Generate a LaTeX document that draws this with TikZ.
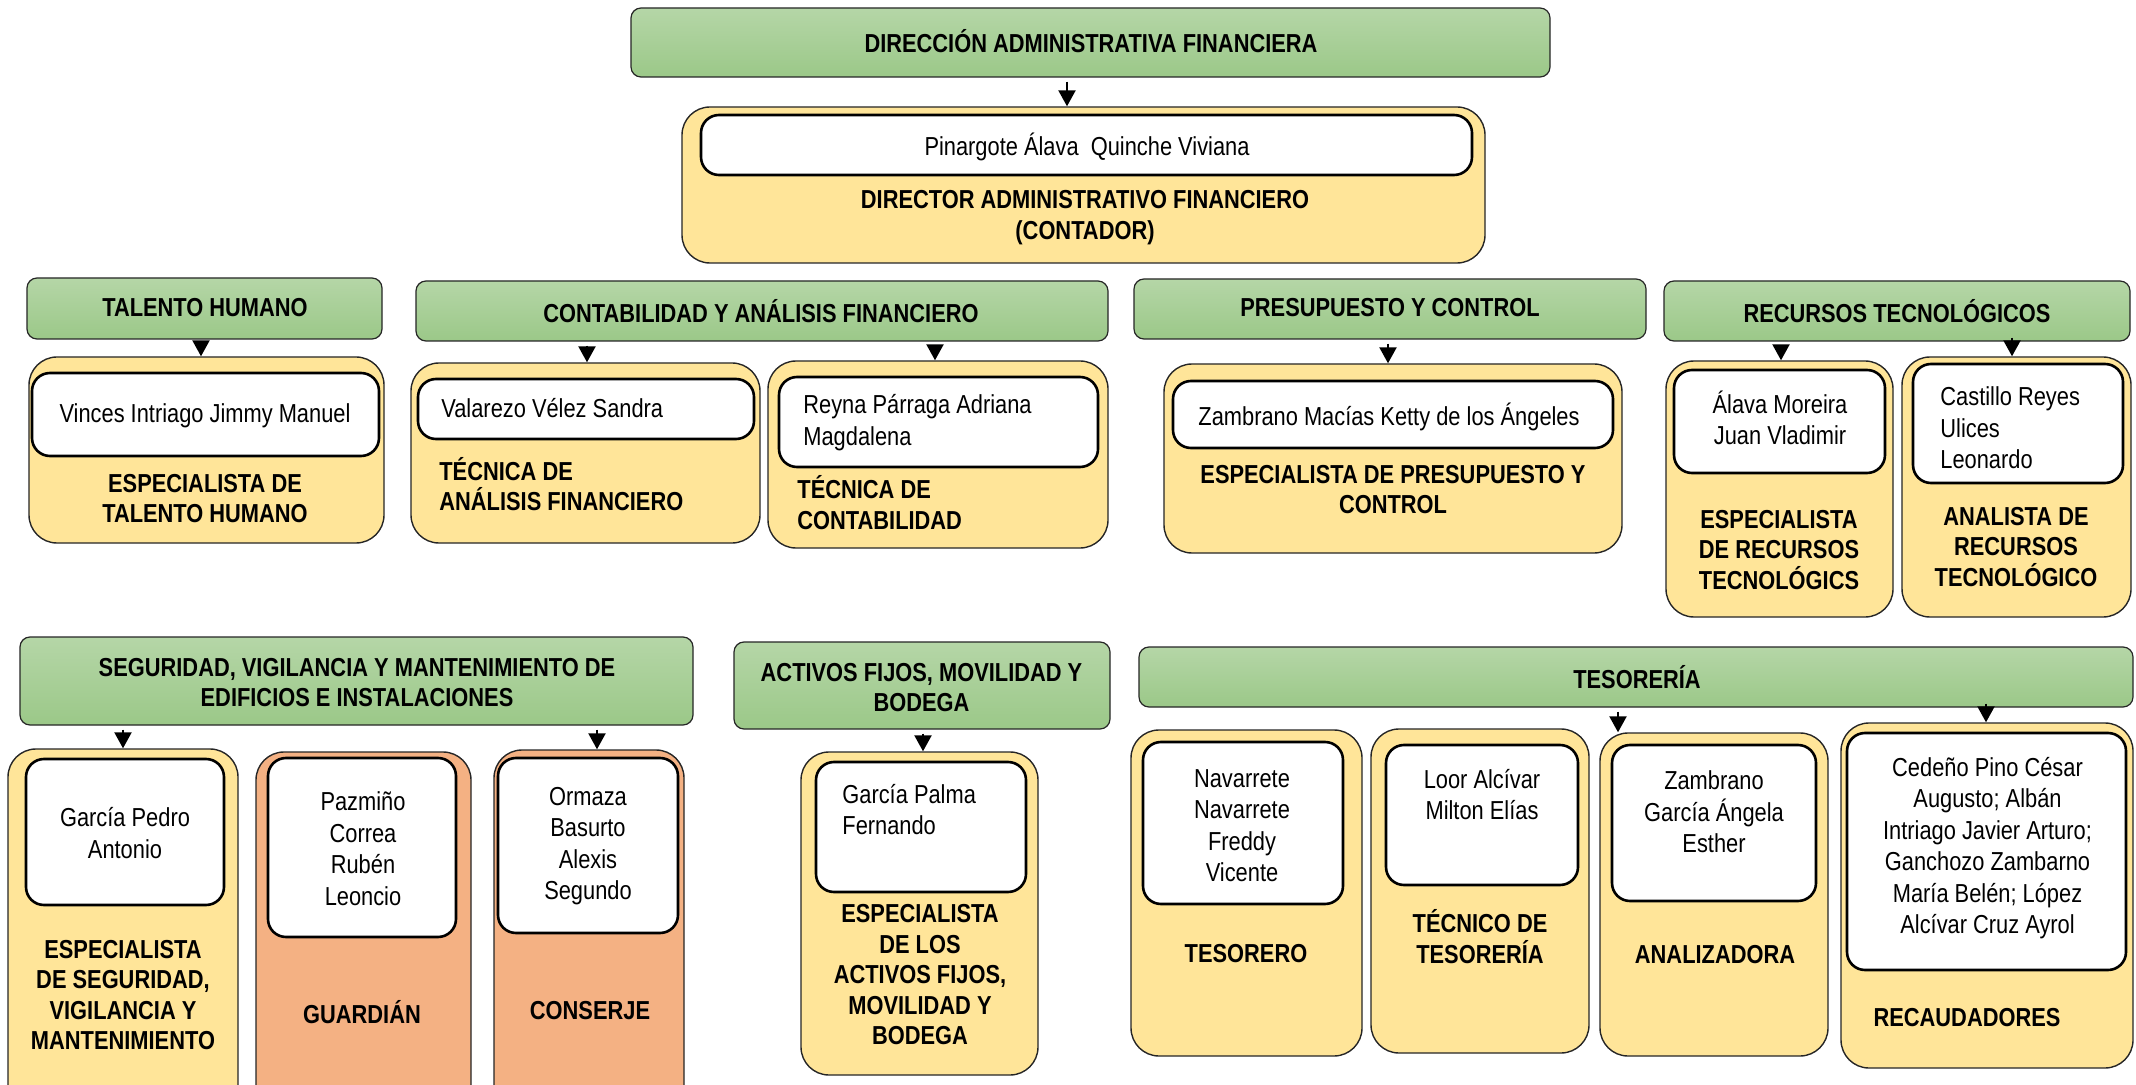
\documentclass[tikz,border=0pt]{standalone}
\usepackage{fontspec}
\setmainfont{Liberation Sans}[FakeStretch=0.84]
\usetikzlibrary{fit,arrows.meta}
\definecolor{grnTop}{HTML}{B5D6A7}
\definecolor{grnBot}{HTML}{9BC888}
\definecolor{yelFill}{HTML}{FFE599}
\definecolor{orgFill}{HTML}{F4B183}
\definecolor{edgeC}{HTML}{262626}

\tikzset{
  hdr/.style={draw=edgeC, line width=0.6pt, rounded corners=5pt,
    top color=grnTop, bottom color=grnBot, inner sep=0pt},
  posbox/.style={draw=edgeC, line width=0.7pt, rounded corners=14pt,
    fill=yelFill, inner sep=0pt},
  posboxO/.style={posbox, fill=orgFill},
  namebox/.style={draw=black, line width=1.3pt, fill=white,
    rounded corners=9pt, inner sep=0pt},
  htxt/.style={font=\bfseries\fontsize{13}{15.25}\selectfont,
    align=center, inner sep=0pt},
  ttl/.style={htxt},
  ttll/.style={htxt, align=left, anchor=west},
  nm/.style={font=\fontsize{13}{15.75}\selectfont, align=center, inner sep=0pt},
  nml/.style={nm, align=left, anchor=west},
  arr/.style={-{Triangle[length=8pt,width=8.5pt]}, line width=1.1pt,
    black, shorten <=2pt},
}

\begin{document}
\begin{tikzpicture}[x=0.5pt, y=-0.5pt]
\useasboundingbox (0,0) rectangle (2136,1085);
\fill[white] (0,0) rectangle (2136,1085);
\clip (0,0) rectangle (2136,1085);

% x positions of the connectors
\coordinate (xTop) at (1067,0);
\coordinate (xTH) at (201,0);
\coordinate (xTAF) at (587,0);
\coordinate (xTC) at (935,0);
\coordinate (xPC) at (1388,0);
\coordinate (xERT) at (1781,0);
\coordinate (xART) at (2012,0);
\coordinate (xESV) at (123,0);
\coordinate (xCON) at (597,0);
\coordinate (xAF) at (923,0);
\coordinate (xANA) at (1618,0);
\coordinate (xREC) at (1986,0);

% ---------- direction ----------
\node[hdr, fit={(631,8)(1550,77)}] (dafH) {};
\node[htxt] (dafT) at (1091,41) {DIRECCIÓN ADMINISTRATIVA FINANCIERA};
\node[posbox, fit={(682,107)(1485,263)}] (dirB) {};
\node[namebox, fit={(701,115)(1472,175)}] (dirN) {};
\node[nm] (dirNT) at (1087,147) {Pinargote Álava\ \ Quinche Viviana};
\node[ttl] (dirT) at (1085,217.5) {DIRECTOR ADMINISTRATIVO FINANCIERO\\(CONTADOR)};
\draw[arr] (dafH.south -| xTop) -- (dirB.north -| xTop);

% ---------- talento humano ----------
\node[hdr, fit={(27,278)(382,339)}] (thH) {};
\node[htxt] (thHT) at (205,308) {TALENTO HUMANO};
\node[posbox, fit={(29,357)(384,543)}] (thB) {};
\node[namebox, fit={(32,373)(379,456)}] (thN) {};
\node[nm] (thNT) at (205,416) {Vinces Intriago Jimmy Manuel};
\node[ttl] (thT) at (205,498.5) {ESPECIALISTA DE\\TALENTO HUMANO};
\draw[arr] (thH.south -| xTH) -- (thB.north -| xTH);

% ---------- contabilidad y analisis financiero ----------
\node[hdr, fit={(416,281)(1108,341)}] (cafH) {};
\node[htxt] (cafHT) at (761,311) {CONTABILIDAD Y ANÁLISIS FINANCIERO};
\node[posbox, fit={(411,363)(760,543)}] (tafB) {};
\node[namebox, fit={(418,379)(754,439)}] (tafN) {};
\node[nml] (tafNT) at (441,408) {Valarezo Vélez Sandra};
\node[ttll] (tafT) at (439,484) {TÉCNICA DE\\ANÁLISIS FINANCIERO};
\draw[arr] (cafH.south -| xTAF) -- (tafB.north -| xTAF);

\node[posbox, fit={(768,361)(1108,548)}] (tcB) {};
\node[namebox, fit={(779,377)(1098,467)}] (tcN) {};
\node[nml] (tcNT) at (803,422.5) {Reyna Párraga Adriana\\Magdalena};
\node[ttll] (tcT) at (797,502.5) {TÉCNICA DE\\CONTABILIDAD};
\draw[arr] (cafH.south -| xTC) -- (tcB.north -| xTC);

% ---------- presupuesto y control ----------
\node[hdr, fit={(1134,279)(1646,339)}] (pcH) {};
\node[htxt] (pcHT) at (1390,308) {PRESUPUESTO Y CONTROL};
\node[posbox, fit={(1164,364)(1622,553)}] (pcB) {};
\node[namebox, fit={(1173,381)(1613,448)}] (pcN) {};
\node[nm] (pcNT) at (1389,417) {Zambrano Macías Ketty de los Ángeles};
\node[ttl] (pcT) at (1393,489.5) {ESPECIALISTA DE PRESUPUESTO Y\\CONTROL};
\draw[arr] (pcH.south -| xPC) -- (pcB.north -| xPC);

% ---------- recursos tecnologicos ----------
\node[hdr, fit={(1664,281)(2130,341)}] (rtH) {};
\node[htxt] (rtHT) at (1897,311) {RECURSOS TECNOLÓGICOS};
\node[posbox, fit={(1666,361)(1893,617)}] (ertB) {};
\node[namebox, fit={(1674,370)(1885,473)}] (ertN) {};
\node[nm] (ertNT) at (1780,418) {Álava Moreira\\Juan Vladimir};
\node[ttl] (ertT) at (1779,550) {ESPECIALISTA\\DE RECURSOS\\TECNOLÓGICS};
\draw[arr] (rtH.south -| xERT) -- (ertB.north -| xERT);

\node[posbox, fit={(1902,357)(2131,617)}] (artB) {};
\node[namebox, fit={(1913,364)(2123,483)}] (artN) {};
\node[nml] (artNT) at (1940,428) {Castillo Reyes\\Ulices\\Leonardo};
\node[ttl] (artT) at (2016,547) {ANALISTA DE\\RECURSOS\\TECNOLÓGICO};
\draw[arr] (rtH.south -| xART) -- (artB.north -| xART);

% ---------- seguridad, vigilancia y mantenimiento ----------
\node[hdr, fit={(20,637)(693,725)}] (svH) {};
\node[htxt] (svHT) at (357,682.5) {SEGURIDAD, VIGILANCIA Y MANTENIMIENTO DE\\EDIFICIOS E INSTALACIONES};
\node[posbox, fit={(8,749)(238,1130)}] (esvB) {};
\node[namebox, fit={(26,759)(224,905)}] (esvN) {};
\node[nm] (esvNT) at (125,833) {García Pedro\\Antonio};
\node[ttl] (esvT) at (123,995) {ESPECIALISTA\\DE SEGURIDAD,\\VIGILANCIA Y\\MANTENIMIENTO};
\draw[arr] (svH.south -| xESV) -- (esvB.north -| xESV);

\node[posboxO, fit={(256,752)(471,1130)}] (guaB) {};
\node[namebox, fit={(268,758)(456,937)}] (guaN) {};
\node[nm] (guaNT) at (363,848.5) {Pazmiño\\Correa\\Rubén\\Leoncio};
\node[ttl] (guaT) at (362,1012) {GUARDIÁN};

\node[posboxO, fit={(494,750)(684,1130)}] (conB) {};
\node[namebox, fit={(498,758)(678,933)}] (conN) {};
\node[nm] (conNT) at (588,846) {Ormaza\\Basurto\\Alexis\\Segundo};
\node[ttl] (conT) at (590,1011) {CONSERJE};
\draw[arr] (svH.south -| xCON) -- (conB.north -| xCON);

% ---------- activos fijos ----------
\node[hdr, fit={(734,642)(1110,729)}] (afH) {};
\node[htxt] (afHT) at (921.5,687.5) {ACTIVOS FIJOS, MOVILIDAD Y\\BODEGA};
\node[posbox, fit={(801,752)(1038,1075)}] (afB) {};
\node[namebox, fit={(816,762)(1026,892)}] (afN) {};
\node[nml] (afNT) at (842,809.5) {García Palma\\Fernando};
\node[ttl] (afT) at (920,975) {ESPECIALISTA\\DE LOS\\ACTIVOS FIJOS,\\MOVILIDAD Y\\BODEGA};
\draw[arr] (afH.south -| xAF) -- (afB.north -| xAF);

% ---------- tesoreria ----------
\node[hdr, fit={(1139,647)(2133,707)}] (tesH) {};
\node[htxt] (tesHT) at (1637,677) {TESORERÍA};

\node[posbox, fit={(1131,730)(1362,1056)}] (tsrB) {};
\node[namebox, fit={(1143,742)(1343,904)}] (tsrN) {};
\node[nm] (tsrNT) at (1242,825.5) {Navarrete\\Navarrete\\Freddy\\Vicente};
\node[ttl] (tsrT) at (1246,954) {TESORERO};

\node[posbox, fit={(1371,729)(1589,1053)}] (tteB) {};
\node[namebox, fit={(1386,745)(1578,885)}] (tteN) {};
\node[nm] (tteNT) at (1482,794.5) {Loor Alcívar\\Milton Elías};
\node[ttl] (tteT) at (1480,936.5) {TÉCNICO DE\\TESORERÍA};

\node[posbox, fit={(1600,733)(1828,1056)}] (anaB) {};
\node[namebox, fit={(1612,745)(1816,901)}] (anaN) {};
\node[nm] (anaNT) at (1714,812) {Zambrano\\García Ángela\\Esther};
\node[ttl] (anaT) at (1715,955) {ANALIZADORA};
\draw[arr] (tesH.south -| xANA) -- (anaB.north -| xANA);

\node[posbox, fit={(1841,723)(2133,1068)}] (recB) {};
\node[namebox, fit={(1847,733)(2126,970)}] (recN) {};
\node[nm] (recNT) at (1987.5,848) {Cedeño Pino César\\Augusto; Albán\\Intriago Javier Arturo;\\Ganchozo Zambarno\\María Belén; López\\Alcívar Cruz Ayrol};
\node[ttl] (recT) at (1967,1018) {RECAUDADORES};
\draw[arr] (tesH.south -| xREC) -- (recB.north -| xREC);
\end{tikzpicture}
\end{document}
